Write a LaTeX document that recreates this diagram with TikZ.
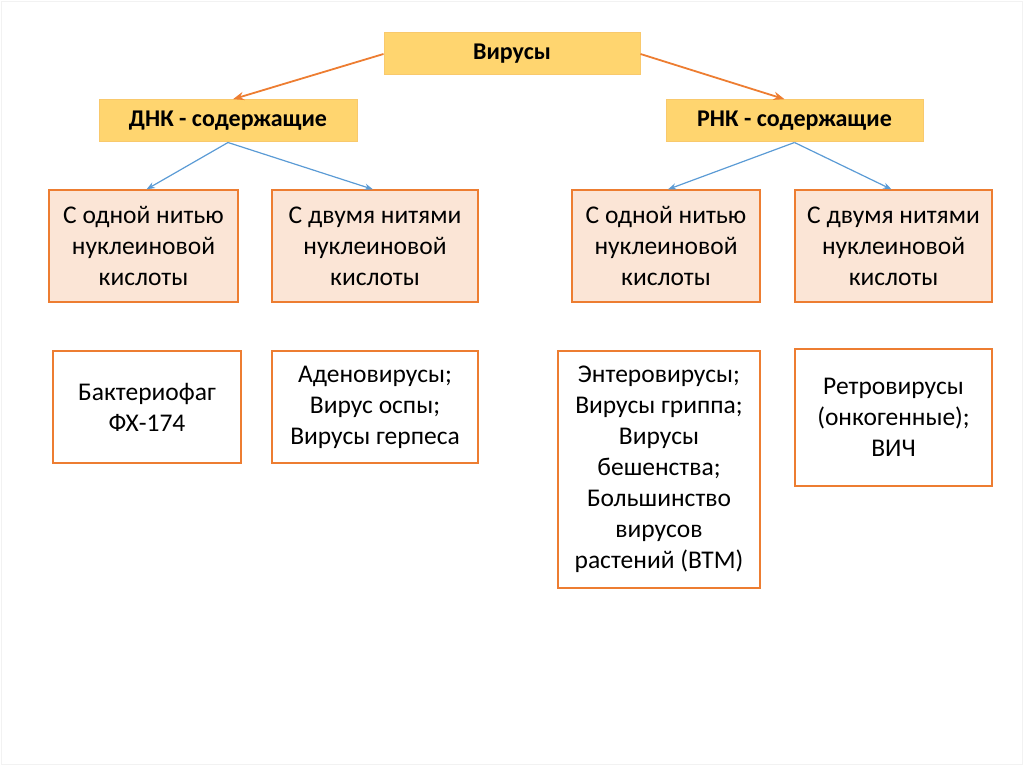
\documentclass[tikz,border=0pt]{standalone}
\usepackage{fontspec}
\setmainfont{Carlito}
\usepackage{tikz}
\usetikzlibrary{arrows.meta,positioning}
\definecolor{headfill}{HTML}{FFD56F}
\definecolor{headdraw}{HTML}{F9C96C}
\definecolor{typefill}{HTML}{FBE5D6}
\definecolor{boxorange}{HTML}{ED7D31}
\definecolor{arroworange}{HTML}{ED7D31}
\definecolor{arrowblue}{HTML}{5B9BD5}

\begin{document}
\begin{tikzpicture}[
    x=1pt, y=-1pt,
    >=Stealth,
    every node/.style={font=\fontsize{25.5}{31}\selectfont},
    head/.style={
        rectangle,
        fill=headfill,
        draw=headdraw,
        line width=1pt,
        minimum height=42pt,
        inner sep=0pt,
        font=\fontsize{24}{28}\selectfont\bfseries
    },
    kind/.style={
        rectangle,
        fill=typefill,
        draw=boxorange,
        line width=1.3pt,
        minimum height=112pt,
        inner sep=0pt,
        align=center
    },
    example/.style={
        rectangle,
        fill=white,
        draw=boxorange,
        line width=1.3pt,
        inner sep=0pt,
        align=center
    },
    toparrow/.style={->, arroworange, line width=1.8pt, shorten >=1pt},
    subarrow/.style={->, arrowblue, line width=1.2pt}
]
    \useasboundingbox (0,0) rectangle (1024,767);
    \draw[black!5] (1,1) rectangle (1022,764);

    % === TOP: ROOT ===
    \node[head, minimum width=256pt] (viruses) at (512,54) {Вирусы};

    % DNA / RNA groups
    \node[head, minimum width=258pt] (dna) at (228,121) {ДНК - содержащие};
    \node[head, minimum width=257pt] (rna) at (794.5,121) {РНК - содержащие};

    \draw[toparrow] (viruses.west) -- ([xshift=4pt]dna.north);
    \draw[toparrow] (viruses.east) -- ([xshift=-9pt]rna.north);

    % === LEFT SIDE: DNA ===
    \node[kind, minimum width=189pt] (dnasingle) at (143.5,246) {С одной нитью\\нуклеиновой\\кислоты};
    \node[kind, minimum width=206pt] (dnadouble) at (375,246) {С двумя нитями\\нуклеиновой\\кислоты};

    \draw[subarrow] (dna.south) -- ([xshift=3pt]dnasingle.north);
    \draw[subarrow] (dna.south) -- ([xshift=-2pt]dnadouble.north);

    % Examples
    \node[example, minimum width=188pt, minimum height=112pt] (phage) at (147,407) {Бактериофаг\\ФХ-174};
    \node[example, minimum width=206pt, minimum height=112pt] (adeno) at (375,407) {Аденовирусы;\\Вирус оспы;\\Вирусы герпеса};

    % === RIGHT SIDE: RNA ===
    \node[kind, minimum width=188pt] (rnasingle) at (666,246) {С одной нитью\\нуклеиновой\\кислоты};
    \node[kind, minimum width=197pt] (rnadouble) at (893.5,246) {С двумя нитями\\нуклеиновой\\кислоты};

    \draw[subarrow] (rna.south) -- ([xshift=2pt]rnasingle.north);
    \draw[subarrow] (rna.south) -- ([xshift=-2pt]rnadouble.north);

    % Examples
    \node[example, minimum width=202pt, minimum height=237pt] (entero) at (659,469.5) {Энтеровирусы;\\Вирусы гриппа;\\Вирусы\\бешенства;\\Большинство\\вирусов\\растений (ВТМ)};
    \node[example, minimum width=197pt, minimum height=137pt] (retro) at (893.5,417.5) {Ретровирусы\\(онкогенные);\\ВИЧ};
\end{tikzpicture}
\end{document}
